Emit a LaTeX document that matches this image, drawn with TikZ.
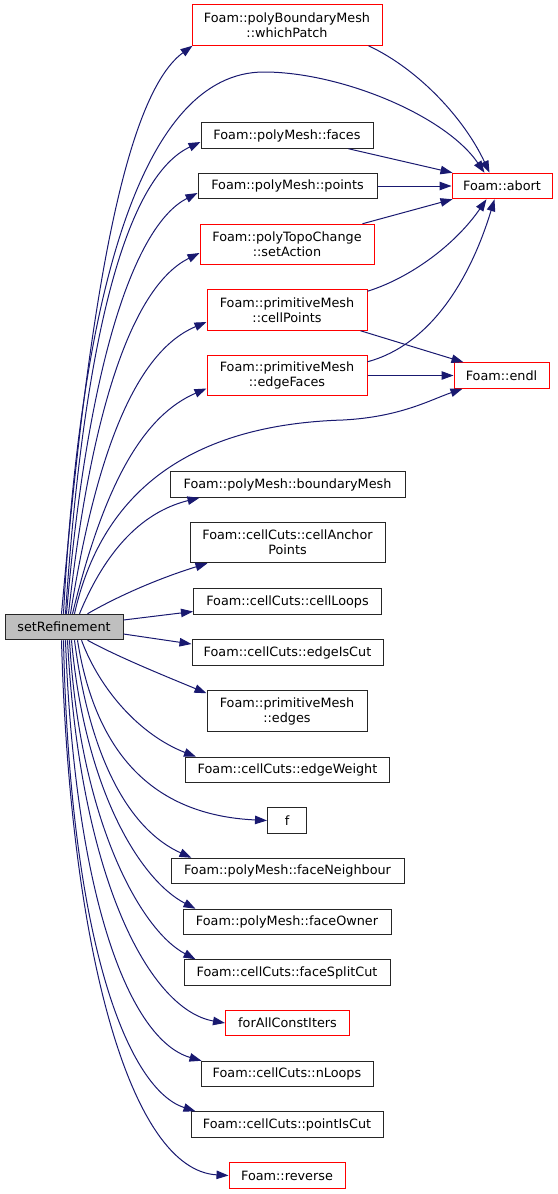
\documentclass[tikz,border=0pt]{standalone}
\usepackage{fontspec}
\setmainfont{DejaVu Sans}
\usetikzlibrary{arrows.meta,calc}
\definecolor{edgec}{HTML}{191970}
\definecolor{fillg}{HTML}{BFBFBF}
\definecolor{boxred}{HTML}{FF0000}
\begin{document}
\begin{tikzpicture}[x=1pt,y=-1pt,
  box/.style={draw=black!85, line width=1pt, inner sep=1pt, font=\fontsize{12.8}{15}\selectfont, align=center},
  redbox/.style={box, draw=boxred},
  one/.style={minimum height=25.5pt},
  two/.style={minimum height=40.5pt},
  edge/.style={draw=edgec, line width=1pt, -{Triangle[length=12pt,width=8.5pt]}}]
\useasboundingbox (0,0) rectangle (557,1194);
% nodes
\node[box, one, minimum width=118pt, fill=fillg] (sr) at (64,627) {setRefinement};
\node[redbox, two, minimum width=190pt] (wp) at (287,25) {Foam::polyBoundaryMesh\\::whichPatch};
\node[box, one, minimum width=172pt] (fa) at (287,135.5) {Foam::polyMesh::faces};
\node[box, one, minimum width=179pt] (pt) at (287.5,186) {Foam::polyMesh::points};
\node[redbox, two, minimum width=174pt] (sa) at (287,244.5) {Foam::polyTopoChange\\::setAction};
\node[redbox, two, minimum width=160pt] (cp) at (287,310) {Foam::primitiveMesh\\::cellPoints};
\node[redbox, two, minimum width=160pt] (ef) at (287,375.5) {Foam::primitiveMesh\\::edgeFaces};
\node[redbox, one, minimum width=100pt] (ab) at (502,186) {Foam::abort};
\node[redbox, one, minimum width=95pt] (en) at (501.5,375.5) {Foam::endl};
\node[box, one, minimum width=235pt] (bm) at (287.5,484.5) {Foam::polyMesh::boundaryMesh};
\node[box, two, minimum width=195pt] (ca) at (287.5,542.5) {Foam::cellCuts::cellAnchor\\Points};
\node[box, one, minimum width=188pt] (cl) at (287.5,601.5) {Foam::cellCuts::cellLoops};
\node[box, one, minimum width=191pt] (ei) at (287.5,652.5) {Foam::cellCuts::edgeIsCut};
\node[box, two, minimum width=160pt] (ed) at (287,711) {Foam::primitiveMesh\\::edges};
\node[box, one, minimum width=204pt] (ew) at (287.5,770) {Foam::cellCuts::edgeWeight};
\node[box, one, minimum width=39pt] (ff) at (287,820.5) {f};
\node[box, one, minimum width=233pt] (fn) at (287.5,871) {Foam::polyMesh::faceNeighbour};
\node[box, one, minimum width=208pt] (fo) at (287,922) {Foam::polyMesh::faceOwner};
\node[box, one, minimum width=206pt] (fs) at (287,972.5) {Foam::cellCuts::faceSplitCut};
\node[redbox, one, minimum width=124pt] (fc) at (287.5,1023) {forAllConstIters};
\node[box, one, minimum width=172pt] (nl) at (287,1074) {Foam::cellCuts::nLoops};
\node[box, one, minimum width=192pt] (pc) at (287,1124.5) {Foam::cellCuts::pointIsCut};
\node[redbox, one, minimum width=116pt] (rv) at (287,1175.5) {Foam::reverse};
% edges between callees
\draw[edge] ($(wp.south east)+(-14,0)$) .. controls (420,70) and (465,120) .. ($(ab.north west)+(38,0)$);
\draw[edge] ($(fa.south east)+(-25,0)$) -- ($(ab.north west)+(1,0)$);
\draw[edge] (pt.east) -- (ab.west);
\draw[edge] ($(sa.north east)+(-12,0)$) -- ($(ab.south west)+(1,0)$);
\draw[edge] ($(cp.north east)+(0,2)$) .. controls (410,278) and (455,245) .. ($(ab.south west)+(35,0)$);
\draw[edge] ($(ef.north east)+(0,7)$) .. controls (430,345) and (470,280) .. ($(ab.south west)+(43,0)$);
\draw[edge] ($(cp.south east)+(-7,0)$) -- ($(en.north west)+(10,0)$);
\draw[edge] (ef.east) -- (en.west);
% edges from setRefinement, upwards
\draw[edge] ($(sr.north west)+(57,0)$) .. controls (85,350) and (118,100) .. ($(wp.south west)+(1,0)$);
\draw[edge] ($(sr.north west)+(59,0)$) .. controls (80,300) and (140,72) .. (264,72) .. controls (340,72) and (445,115) .. ($(ab.north west)+(33,0)$);
\draw[edge] ($(sr.north west)+(61,0)$) .. controls (85,320) and (130,175) .. ($(fa.west)+(0,6.5)$);
\draw[edge] ($(sr.north west)+(62,0)$) .. controls (88,360) and (135,225) .. ($(pt.west)+(0,7)$);
\draw[edge] ($(sr.north west)+(64,0)$) .. controls (92,400) and (135,285) .. ($(sa.west)+(0,8.5)$);
\draw[edge] ($(sr.north west)+(66,0)$) .. controls (98,440) and (140,350) .. ($(cp.west)+(0,12)$);
\draw[edge] ($(sr.north west)+(68,0)$) .. controls (105,480) and (145,415) .. ($(ef.west)+(0,13)$);
\draw[edge] ($(sr.north west)+(70,0)$) .. controls (100,500) and (180,425) .. (343,420) .. controls (400,417) and (430,400) .. ($(en.south west)+(9,0)$);
\draw[edge] ($(sr.north west)+(75,0)$) .. controls (110,540) and (150,510) .. ($(bm.south west)+(30,0)$);
\draw[edge] ($(sr.north west)+(83,0)$) .. controls (120,595) and (160,578) .. ($(ca.south west)+(18,0)$);
% sideways
\draw[edge] ($(sr.east)+(0,-7)$) -- ($(cl.west)+(0,10)$);
\draw[edge] ($(sr.east)+(0,7)$) -- ($(ei.west)+(0,-8.5)$);
% downwards
\draw[edge] ($(sr.south west)+(83,0)$) .. controls (120,658) and (170,678) .. ($(ed.north west)+(0,3)$);
\draw[edge] ($(sr.south west)+(77,0)$) .. controls (100,690) and (140,735) .. ($(ew.north west)+(11,0)$);
\draw[edge] ($(sr.south west)+(73,0)$) .. controls (95,750) and (150,815) .. (ff.west);
\draw[edge] ($(sr.south west)+(70,0)$) .. controls (90,760) and (130,830) .. ($(fn.north west)+(21,0)$);
\draw[edge] ($(sr.south west)+(67,0)$) .. controls (85,790) and (140,880) .. ($(fo.north west)+(13,0)$);
\draw[edge] ($(sr.south west)+(65,0)$) .. controls (80,820) and (140,930) .. ($(fs.north west)+(12,0)$);
\draw[edge] ($(sr.south west)+(63,0)$) .. controls (80,880) and (150,1010) .. (fc.west);
\draw[edge] ($(sr.south west)+(61,0)$) .. controls (75,900) and (130,1040) .. ($(nl.north west)+(1,0)$);
\draw[edge] ($(sr.south west)+(59,0)$) .. controls (70,950) and (130,1090) .. ($(pc.north west)+(5,0)$);
\draw[edge] ($(sr.south west)+(57,0)$) .. controls (70,950) and (130,1170) .. (rv.west);
\end{tikzpicture}
\end{document}
